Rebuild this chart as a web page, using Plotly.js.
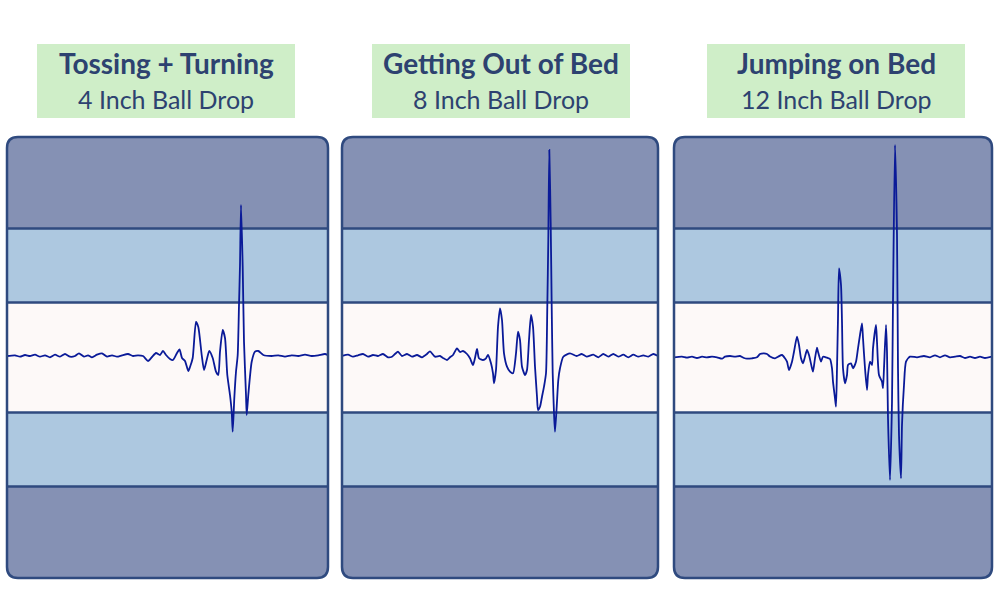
<!DOCTYPE html>
<html>
<head>
<meta charset="utf-8">
<script src="https://cdn.plot.ly/plotly-3.0.1.min.js"></script>
<style>html,body{margin:0;padding:0;background:#fff;}#chart{width:1000px;height:607px;}</style>
</head>
<body>
<div id="chart"></div>
<script>
// ---- Data ----
const titles = ["Tossing + Turning", "Getting Out of Bed", "Jumping on Bed"];
const subtitles = ["4 Inch Ball Drop", "8 Inch Ball Drop", "12 Inch Ball Drop"];

// Band levels (amplitude units)
const bandInner = 55;
const bandOuter = 129;
const ampMax = 220.5;

// Panel 1: time offset and amplitude
const t1 = [0,8,13,18,23,28,33,38,43,48,53,58,63,68,72,77,81,85,90,95,100,105,110,115,121,126,131,136,141,145,149,153,156,159,163,166,170,172.5,175,178,181.3,183,185.7,189,191.3,194.7,197,199.7,202.3,205.7,209,211.3,213,215.7,218,220.3,223,224.7,225.7,227.3,229,230.7,232,233,234,235.7,237,239,239.7,241.3,244.7,248,251.3,256.3,264.7,271.3,278,284.7,291.3,298,304.7,311.3,318,321];
const a1 = [1.5,2.2,0.8,2.5,1.5,2.8,0.8,2.2,0.2,2.8,0.8,3.5,0.8,1.5,4.2,0.8,2.2,0.2,2.8,4.2,0.8,2.2,0.8,2.2,3.5,1.5,2.2,1.5,-3.5,0.5,4.5,2.5,6.5,2.5,-1.5,-2.5,4.5,8,-0.5,-3.5,-13.5,-9.5,-0.5,35.5,30.5,2.5,-12.5,-2.5,6.5,-0.5,-14.2,-17.5,5.8,27.5,19.5,-17.5,-37.5,-54.2,-74.2,-40.8,-14.2,2.5,52.5,92.5,152.5,90.8,15.8,-37.5,-57.5,-37.5,-4.2,5.8,6.5,2.5,1.5,2.2,0.8,2.2,1.5,2.8,1.5,2.2,3.5,2.2];

// Panel 2
const t2 = [0,6,11,16,21,26,31,36,41,46,50,53,56,60,65,70,75,80,85,88,93,98,101,105,108,111,115,118,121,125,128,131,133,135,137,141,144,146,149,151,152,154,156,158,160,162,165,168,171,174,176,178,180,183,185,187,189,191,193,195,196,198,200,202,204,205.3,206.3,207.3,208.7,209.7,210.7,212,213,214.7,216.3,218,221.3,228,234.7,239.7,244.7,251.3,256.3,261.3,266.3,271.3,276.3,281.3,286.3,291.3,296.3,301.3,306.3,311.3,316];
const a2 = [1.5,2.8,0.8,2.2,3.5,0.8,2.5,1.5,3.5,0.2,0.8,3.5,5.8,1.5,3.5,0.8,2.5,0.2,3.5,6.2,0.8,1.5,-0.5,-2.5,0.2,2.5,9.2,5.5,6.5,3.5,-0.8,-7.5,-0.5,8.5,-0.8,-2.5,-0.8,2.5,-5.8,-15.8,-25.8,-12.5,30.8,49.2,37.5,4.2,-9.2,-14.2,-15.8,4.2,25.8,17.5,-9.2,-17.5,-12.5,17.5,42.5,30.8,-9.2,-39.2,-52.5,-49.2,-39.2,-29.2,-15.8,50.8,117.5,207.5,134.2,50.8,-15.8,-55.8,-74.2,-49.2,-22.5,-10.8,0.8,4.2,1.5,3.5,0.8,2.8,0.2,3.5,0.8,3.5,0.8,2.8,0.2,2.8,0.8,2.2,0.8,3.5,1.5];

// Panel 3
const t3 = [0,8,13,18,23,28,33,38,43,48,51,56,61,66,70,73,78,83,86,90,93,96,101,104,108,111,113,115,118,120,123,125,127,129,131,133,135,138,139,141,143,144,147,149,153,156,158,159,161,162,163,164,165,167,168,169,171,173,174,177,179,182,184,186,188,189,191,193,194,196,198,199,202,203,205,208,209,210,212,213,214,216,218,219,221,223,224,225,227,228,230,232,236,243,250,256,261,266,271,276,281,286,291,296,301,306,311,318];
const a3 = [0.2,0.8,-0.2,0.8,-0.5,0.8,0.2,0.8,0.2,-1.2,0.8,1.5,0.8,1.5,-0.5,-1.2,-0.8,0.2,3.5,4.2,3.5,1,-0.8,0.8,2.5,-0.8,-4.2,-12.5,-4.2,5.8,20.8,12.5,-0.8,-5.8,0.8,7.5,2.5,-10.8,-14.2,-0.8,9.8,5.8,-4.2,0.8,-0.2,-1.5,-10.8,-24.2,-40.8,-49.2,-10.8,39.2,89.2,72.5,35.8,-10.8,-25.8,-17.5,-7.5,-5.8,-10.8,-4.2,9.2,22.5,34.2,19.2,-10.8,-32.5,-17.5,-4.2,-7.5,9.2,32.5,15.8,-17.5,-24.2,-30.8,-10.8,32.5,5.8,-60.8,-122.5,-44.2,55.8,212.5,122.5,-10.8,-77.5,-120.8,-67.5,-27.5,-4.2,0.8,0.2,1.5,0.2,2.2,0.2,2.2,0.2,0.8,1.5,-0.5,0.8,-0.5,0.8,-0.5,0.8];

const series = [[t1, a1], [t2, a2], [t3, a3]];

// ---- Layout geometry (pixels) ----
const W = 1000, H = 607;
const panels = [[7, 328], [342, 658], [674, 992]];
const panelTop = 137, panelBottom = 578;
const boxes = [[37, 295], [372, 630], [707, 965]];
const boxTop = 44, boxBottom = 118;

const colDark = "#8591b4";
const colLight = "#adc8e0";
const colCenter = "#fdf9f8";
const colBorder = "#2f4a7f";
const colLine = "#0a1a98";
const colBox = "#cfeec8";
const colText = "#2d4270";

const PX = v => v / W;
const PY = v => 1 - v / H;

function roundRect(x0, y0, x1, y1, r) {
  const f = (x, y) => PX(x).toFixed(5) + "," + PY(y).toFixed(5);
  return "M" + f(x0 + r, y0) + " L" + f(x1 - r, y0) + " Q" + f(x1, y0) + " " + f(x1, y0 + r) +
    " L" + f(x1, y1 - r) + " Q" + f(x1, y1) + " " + f(x1 - r, y1) +
    " L" + f(x0 + r, y1) + " Q" + f(x0, y1) + " " + f(x0, y1 - r) +
    " L" + f(x0, y0 + r) + " Q" + f(x0, y0) + " " + f(x0 + r, y0) + " Z";
}

const data = [];
const shapes = [];
const annotations = [];
const layout = {
  width: W, height: H,
  margin: {l: 0, r: 0, t: 0, b: 0},
  paper_bgcolor: "#ffffff",
  plot_bgcolor: "rgba(0,0,0,0)",
  showlegend: false,
  shapes: shapes,
  annotations: annotations
};

series.forEach((s, i) => {
  const n = i + 1;
  const sfx = (n === 1 ? "" : String(n));
  const xa = "x" + sfx, ya = "y" + sfx;
  const [px0, px1] = panels[i];
  layout["xaxis" + sfx] = {
    domain: [PX(px0), PX(px1)], range: [0, px1 - px0], visible: false, fixedrange: true, anchor: ya
  };
  layout["yaxis" + sfx] = {
    domain: [PY(panelBottom), PY(panelTop)], range: [-ampMax, ampMax], visible: false, fixedrange: true,
    anchor: xa
  };

  // rounded dark background
  shapes.push({type: "path", xref: "paper", yref: "paper", layer: "below",
    path: roundRect(px0, panelTop, px1, panelBottom, 11), fillcolor: colDark, line: {width: 0}});
  // light bands
  [[bandInner, bandOuter], [-bandOuter, -bandInner]].forEach(b => {
    shapes.push({type: "rect", xref: xa + " domain", yref: ya, layer: "below",
      x0: 0, x1: 1, y0: b[0], y1: b[1], fillcolor: colLight, line: {width: 0}});
  });
  // center band
  shapes.push({type: "rect", xref: xa + " domain", yref: ya, layer: "below",
    x0: 0, x1: 1, y0: -bandInner, y1: bandInner, fillcolor: colCenter, line: {width: 0}});
  // band divider lines
  [bandOuter, bandInner, -bandInner, -bandOuter].forEach(v => {
    shapes.push({type: "line", xref: xa + " domain", yref: ya, layer: "below",
      x0: 0, x1: 1, y0: v, y1: v, line: {color: colBorder, width: 2.5}});
  });
  // outline
  shapes.push({type: "path", xref: "paper", yref: "paper", layer: "above",
    path: roundRect(px0, panelTop, px1, panelBottom, 11), fillcolor: "rgba(0,0,0,0)",
    line: {color: colBorder, width: 2.5}});

  // title box
  const [bx0, bx1] = boxes[i];
  shapes.push({type: "rect", xref: "paper", yref: "paper", layer: "below",
    x0: PX(bx0), x1: PX(bx1), y0: PY(boxBottom), y1: PY(boxTop), fillcolor: colBox, line: {width: 0}});
  annotations.push({xref: "paper", yref: "paper", x: PX((bx0 + bx1) / 2), y: PY(63),
    xanchor: "center", yanchor: "middle", showarrow: false,
    text: "<b>" + titles[i] + "</b>", font: {family: "Lato", size: 28, color: colText}});
  annotations.push({xref: "paper", yref: "paper", x: PX((bx0 + bx1) / 2), y: PY(99),
    xanchor: "center", yanchor: "middle", showarrow: false,
    text: subtitles[i], font: {family: "Lato", size: 25, color: colText}});

  data.push({type: "scatter", mode: "lines", x: s[0], y: s[1], xaxis: xa, yaxis: ya,
    line: {color: colLine, width: 1.8, shape: "spline", smoothing: 0.6}, hoverinfo: "skip"});
});

Plotly.newPlot("chart", data, layout, {displayModeBar: false, staticPlot: true});
</script>
</body>
</html>
